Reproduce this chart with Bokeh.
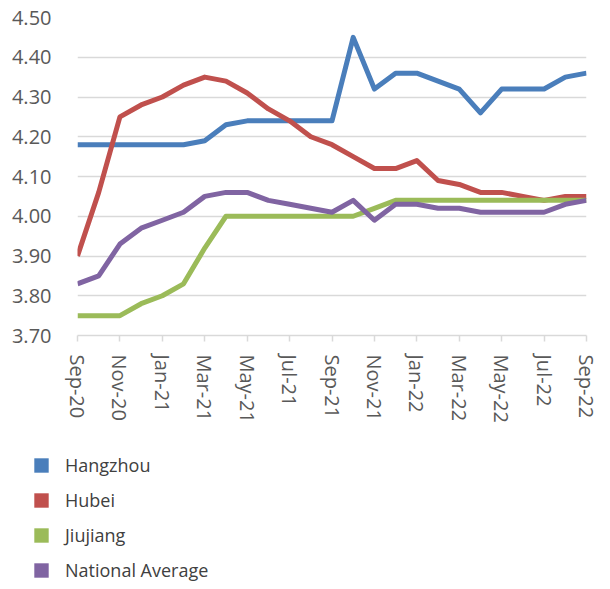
from bokeh.plotting import figure
from bokeh.layouts import column
from bokeh.models import Range1d, FixedTicker, Legend, LegendItem, ColumnDataSource, NumeralTickFormatter
from bokeh.embed import file_html
from bokeh.resources import INLINE

months = ["Sep-20", "Oct-20", "Nov-20", "Dec-20", "Jan-21", "Feb-21", "Mar-21", "Apr-21", "May-21",
          "Jun-21", "Jul-21", "Aug-21", "Sep-21", "Oct-21", "Nov-21", "Dec-21", "Jan-22", "Feb-22",
          "Mar-22", "Apr-22", "May-22", "Jun-22", "Jul-22", "Aug-22", "Sep-22"]

hangzhou = [4.18, 4.18, 4.18, 4.18, 4.18, 4.18, 4.19, 4.23, 4.24, 4.24, 4.24, 4.24, 4.24,
            4.45, 4.32, 4.36, 4.36, 4.34, 4.32, 4.26, 4.32, 4.32, 4.32, 4.35, 4.36]
hubei = [3.90, 4.06, 4.25, 4.28, 4.30, 4.33, 4.35, 4.34, 4.31, 4.27, 4.24, 4.20, 4.18,
         4.15, 4.12, 4.12, 4.14, 4.09, 4.08, 4.06, 4.06, 4.05, 4.04, 4.05, 4.05]
jiujiang = [3.75, 3.75, 3.75, 3.78, 3.80, 3.83, 3.92, 4.00, 4.00, 4.00, 4.00, 4.00, 4.00,
            4.00, 4.02, 4.04, 4.04, 4.04, 4.04, 4.04, 4.04, 4.04, 4.04, 4.04, 4.04]
national = [3.83, 3.85, 3.93, 3.97, 3.99, 4.01, 4.05, 4.06, 4.06, 4.04, 4.03, 4.02, 4.01,
            4.04, 3.99, 4.03, 4.03, 4.02, 4.02, 4.01, 4.01, 4.01, 4.01, 4.03, 4.04]

series_names = ["Hangzhou", "Hubei", "Jiujiang", "National Average"]
series_values = [hangzhou, hubei, jiujiang, national]
colors = ["#4a7ebb", "#c0504d", "#9bbb59", "#8064a2"]

y_ticks = [3.70, 3.80, 3.90, 4.00, 4.10, 4.20, 4.30, 4.40, 4.50]

FONT = "Open Sans"
TEXT = "#595959"

x = list(range(len(months)))

p = figure(width=610, height=440, output_backend="svg", toolbar_location=None,
           x_range=Range1d(0, len(months) - 1), y_range=Range1d(3.70, 4.50),
           min_border_left=77, min_border_right=24, min_border_top=17, min_border_bottom=105)
p.outline_line_color = None

for name, vals, c in zip(series_names, series_values, colors):
    p.line(x, vals, line_color=c, line_width=5, line_join="round")

# x axis
p.xaxis.ticker = FixedTicker(ticks=x[::2])
p.xaxis.major_label_overrides = {i: months[i] for i in x}
p.xaxis.major_label_orientation = "vertical"
p.xaxis.major_label_text_font = FONT
p.xaxis.major_label_text_font_size = "20px"
p.xaxis.major_label_text_color = TEXT
p.xaxis.axis_line_color = "#d9d9d9"
p.xaxis.axis_line_width = 1.5
p.xaxis.major_tick_line_color = "#d9d9d9"
p.xaxis.major_tick_line_width = 1.5
p.xaxis.major_tick_in = 0
p.xaxis.major_tick_out = 6
p.xaxis.minor_tick_line_color = None
p.xaxis.major_label_standoff = 13
p.xgrid.grid_line_color = None

# y axis
p.yaxis.ticker = FixedTicker(ticks=y_ticks)
p.yaxis.formatter = NumeralTickFormatter(format="0.00")
p.yaxis.major_label_text_font = FONT
p.yaxis.major_label_text_font_size = "20px"
p.yaxis.major_label_text_color = TEXT
p.yaxis.axis_line_color = None
p.yaxis.major_tick_line_color = None
p.yaxis.minor_tick_line_color = None
p.yaxis.major_label_standoff = 20
p.ygrid.grid_line_color = "#d9d9d9"
p.ygrid.grid_line_width = 1.5

# legend figure with square swatches (proxy renderers that draw nothing)
lg = figure(width=610, height=149, output_backend="svg", toolbar_location=None,
            x_range=Range1d(0, 1), y_range=Range1d(0, 1),
            x_axis_location=None, y_axis_location=None,
            min_border_left=0, min_border_right=0, min_border_top=0, min_border_bottom=0)
lg.outline_line_color = None
lg.xgrid.grid_line_color = None
lg.ygrid.grid_line_color = None

nan = float("nan")
items = []
for name, c in zip(series_names, colors):
    src = ColumnDataSource(data=dict(l=[nan], r=[nan], b=[nan], t=[nan]))
    r = lg.quad(left="l", right="r", bottom="b", top="t", source=src, fill_color=c, line_color=None)
    items.append(LegendItem(label=name, renderers=[r]))

legend = Legend(items=items, location=(32, 7), orientation="vertical",
                glyph_width=18, glyph_height=18, label_height=20, spacing=11,
                label_standoff=15, padding=0, margin=0,
                border_line_color=None, background_fill_alpha=0,
                label_text_font=FONT, label_text_font_size="18px", label_text_color="#404040")
lg.add_layout(legend, "center")

layout = column(column(p, spacing=0), column(lg, spacing=0), spacing=0)
open("out.html", "w").write(file_html(layout, INLINE))
